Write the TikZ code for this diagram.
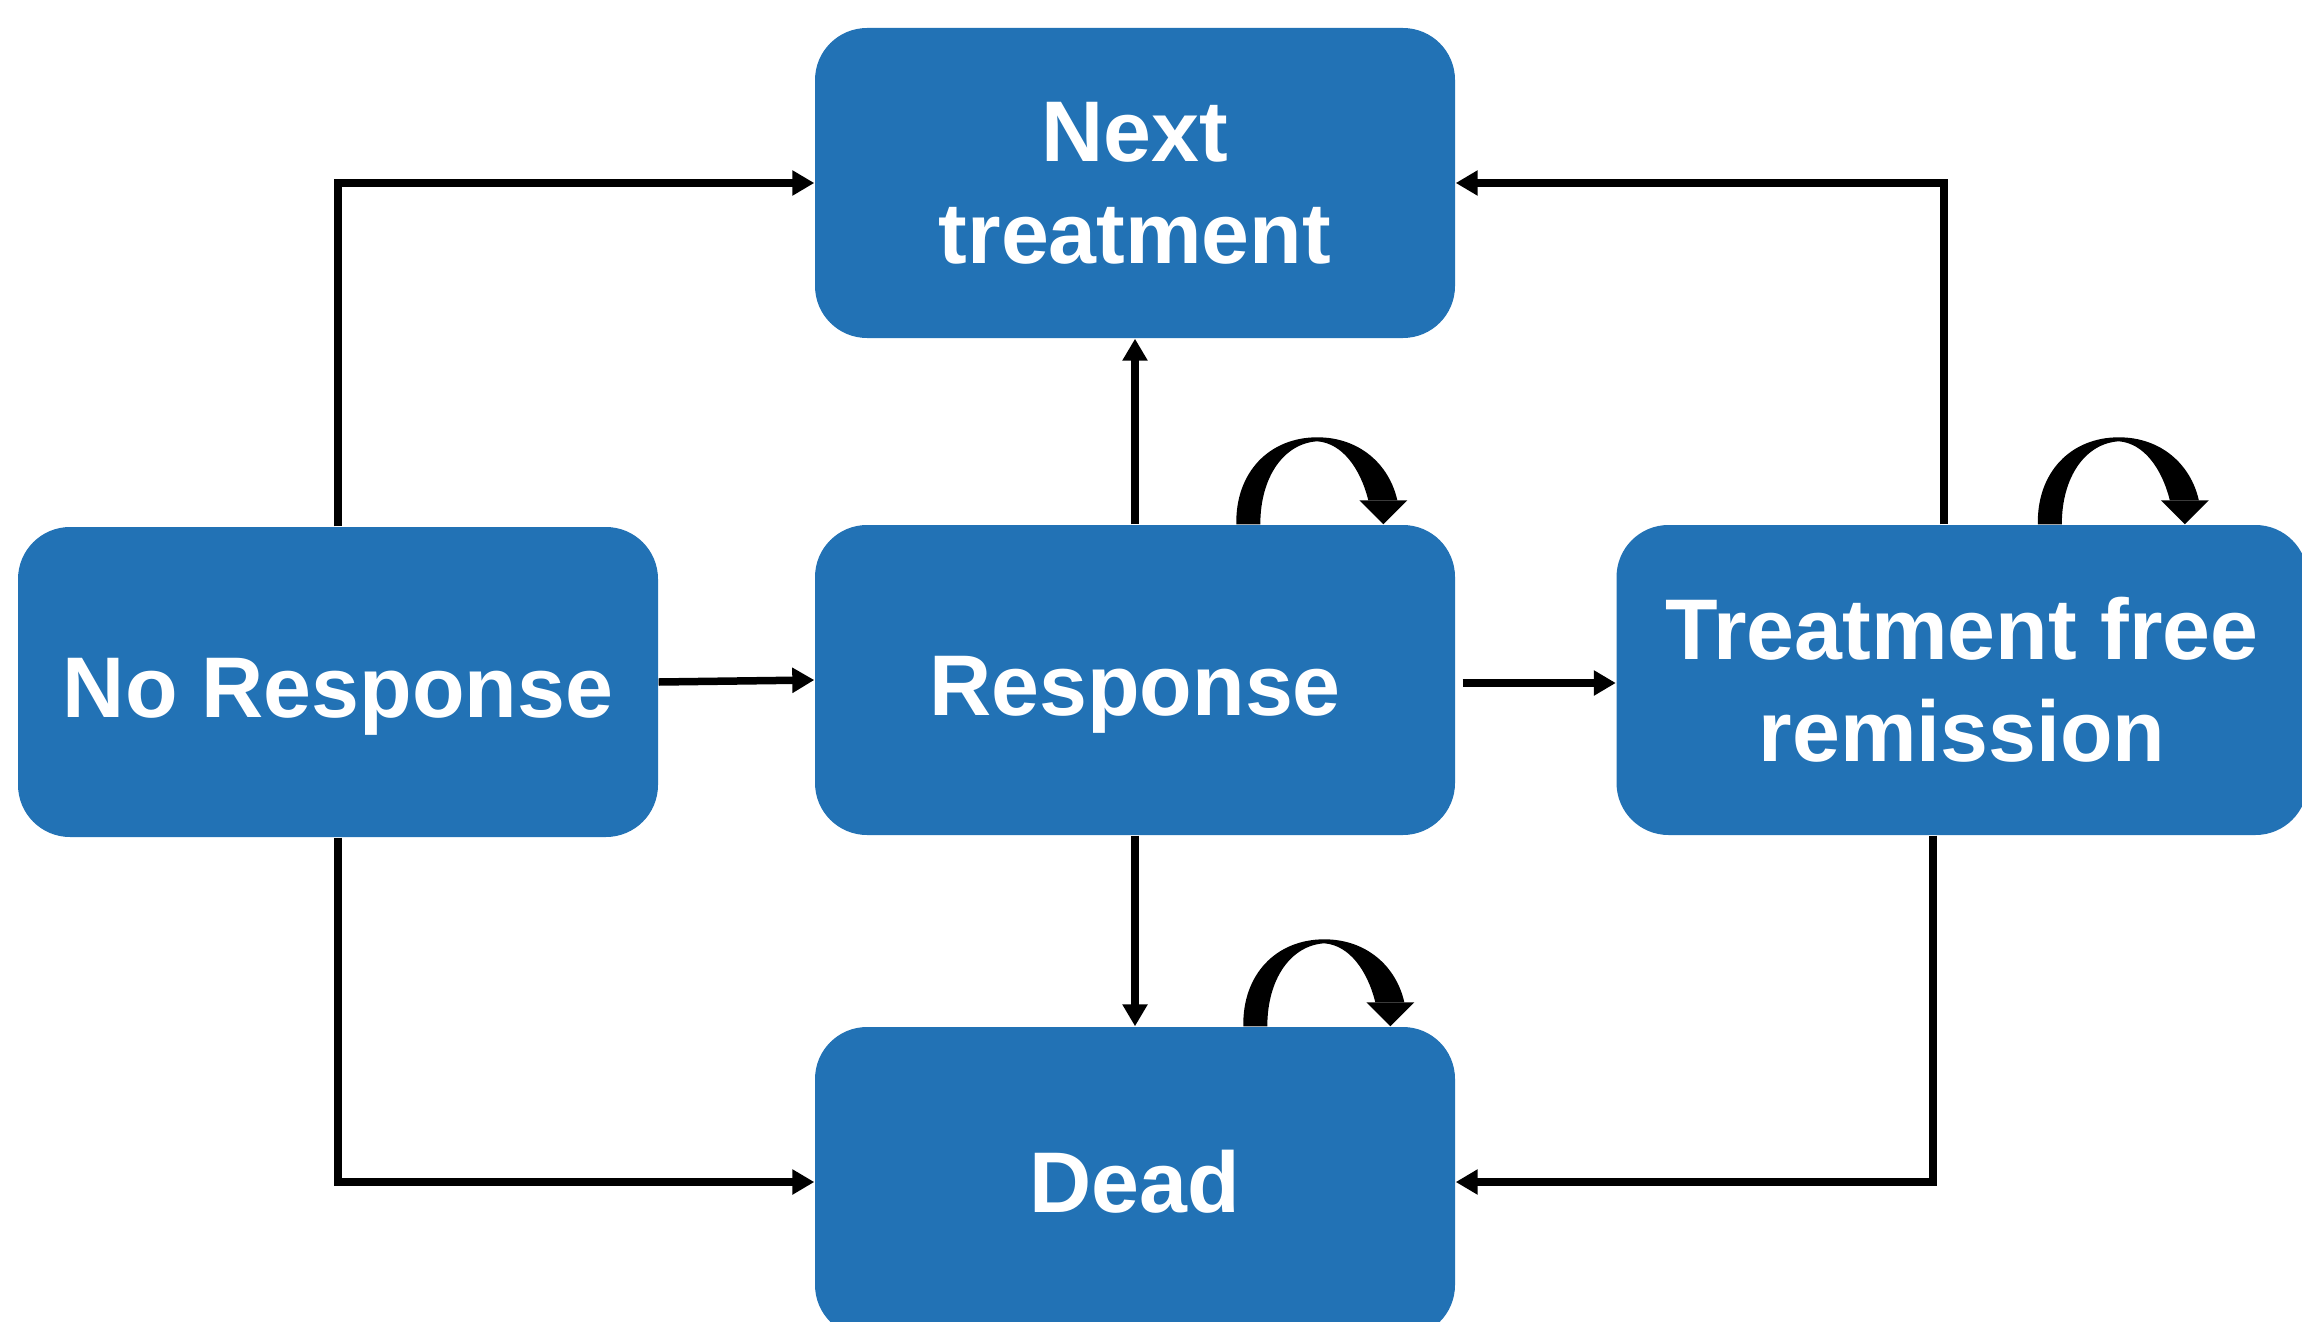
\documentclass[tikz,border=0pt]{standalone}
\usepackage{fontspec}
\setmainfont{Liberation Sans}
\usetikzlibrary{arrows.meta,calc}
\definecolor{stateblue}{RGB}{34,114,181}
\begin{document}
\begin{tikzpicture}[x=0.1mm,y=-0.1mm,
  state/.style={fill=stateblue,rounded corners=5.2mm,minimum width=64mm,minimum height=31mm,inner sep=0pt,text=white,align=center,font=\bfseries\fontsize{24.5}{29}\selectfont},
  oneline/.style={text height=20pt,text depth=0pt},
  trans/.style={draw,line width=0.75mm,-{Triangle[length=2.2mm,width=2.4mm]}},
  selfloop/.pic={
    \fill (422,0) .. controls (421,-52) and (455,-87) .. (503,-87)
      .. controls (545,-87) and (575,-60) .. (583,-24)
      -- (554,-24) .. controls (546,-56) and (528,-81) .. (503,-83)
      .. controls (470,-81) and (446,-48) .. (446,0) -- cycle;
    \fill (545,-24) -- (593,-24) -- (569,0) -- cycle;
  }]
\useasboundingbox (0,0) rectangle (2302,1321);
% states
\node[state] (next) at (1135,183) {Next\\treatment};
\node[state,oneline] (noresp) at (338,682) {No Response};
\node[state,oneline] (resp) at (1135,680) {Response};
\node[state,minimum width=69.1mm] (tfr) at (1962,680) {Treatment free\\remission};
\node[state] (dead) at (1135,1182) {Dead};
% transitions
\path[trans] (noresp.north) |- (next.west);
\path[trans] (resp.north) -- (next.south);
\path[trans] ($(tfr.north)+(-18,0)$) |- (next.east);
\path[trans] (noresp.east) -- (resp.west);
\path[trans] ($(resp.east)+(7,3)$) -- ($(tfr.west)+(0,3)$);
\path[trans] (noresp.south) |- (dead.west);
\path[trans] (resp.south) -- (dead.north);
\path[trans] ($(tfr.south)+(-29,0)$) |- (dead.east);
% staying in the same state
\pic at (resp.north west) {selfloop};
\pic at (tfr.north west) {selfloop};
\pic at ($(dead.north west)+(7,0)$) {selfloop};
\end{tikzpicture}
\end{document}
